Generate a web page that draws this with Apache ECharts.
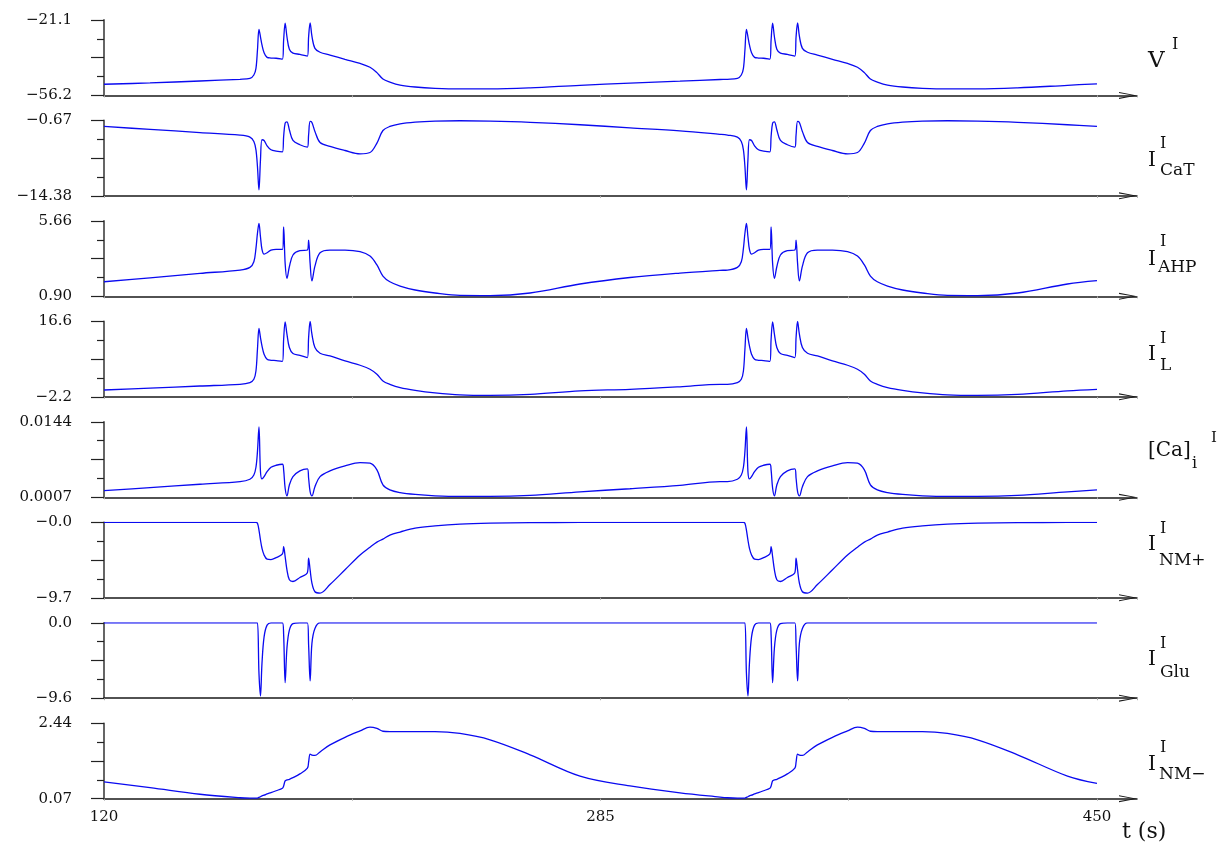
<!DOCTYPE html>
<html><head><meta charset="utf-8">
<script src="https://cdn.jsdelivr.net/npm/echarts@6/dist/echarts.min.js"></script>
<style>html,body{margin:0;padding:0;background:#fff}#c{width:1222px;height:846px}</style>
</head><body><div id="c"></div>
<script>
// time (s)
const timeS = [120, 135.3, 151.9,
 165.2, 168.5, 169.8, 170.5, 171.0, 171.5, 172.0, 172.5, 173.2, 174.2,
 175.5, 177.2, 179.3, 179.7, 180.2, 180.8, 181.6, 182.8, 185.1, 187.6,
 188.0, 188.5, 189.1, 190.1, 191.8, 195.1, 200.1, 205.1, 208.4, 210.7,
 212.7, 215.0, 218.4, 223.4, 230.0, 238.3, 248.3, 261.6, 278.2, 294.8,
 311.4, 324.7,
 327.2, 330.5, 331.8, 332.5, 333.0, 333.5, 334.0, 334.5, 335.2, 336.2,
 337.5, 339.2, 341.3, 341.7, 342.2, 342.8, 343.6, 344.8, 347.1, 349.6,
 350.0, 350.5, 351.1, 352.1, 353.8, 357.1, 362.1, 367.1, 370.4, 372.7,
 374.7, 377.0, 380.4, 385.4, 392.0, 400.3, 410.3, 423.6, 440.2,
 450];

const V_I = [-51.0, -50.4, -49.5,
 -48.7, -48.3, -46.7, -43.6, -35.1, -25.5, -28.9, -32.7, -36.3, -38.5,
 -38.8, -38.9, -39.3, -30.4, -22.6, -28.9, -34.7, -36.5, -37.1, -37.9,
 -28.9, -22.4, -28.6, -34.3, -36.1, -37.4, -39.4, -41.3, -43.1, -45.6,
 -48.6, -50.0, -51.4, -52.3, -52.9, -53.2, -53.2, -52.7, -51.5, -50.5,
 -49.6, -48.8,
 -48.7, -48.3, -46.7, -43.6, -35.1, -25.5, -28.9, -32.7, -36.3, -38.5,
 -38.8, -38.9, -39.3, -30.4, -22.6, -28.9, -34.7, -36.5, -37.1, -37.9,
 -28.9, -22.4, -28.6, -34.3, -36.1, -37.4, -39.4, -41.3, -43.1, -45.6,
 -48.6, -50.0, -51.4, -52.3, -52.9, -53.2, -53.2, -52.7, -51.5,
 -50.8];

const I_CaT = [-1.76, -2.29, -2.87,
 -3.33, -3.69, -4.49, -6.00, -9.05, -13.29, -7.83, -4.18, -4.31, -5.28,
 -6.00, -6.24, -6.37, -3.58, -1.14, -0.91, -2.36, -4.31, -5.09, -5.51,
 -3.27, -0.85, -1.03, -2.67, -4.68, -5.40, -6.13, -6.73, -6.50, -4.78,
 -2.49, -1.76, -1.27, -0.96, -0.78, -0.72, -0.78, -1.00, -1.45, -2.00,
 -2.55, -3.18,
 -3.33, -3.69, -4.49, -6.00, -9.05, -13.29, -7.83, -4.18, -4.31, -5.28,
 -6.00, -6.24, -6.37, -3.58, -1.14, -0.91, -2.36, -4.31, -5.09, -5.51,
 -3.27, -0.85, -1.03, -2.67, -4.68, -5.40, -6.13, -6.73, -6.50, -4.78,
 -2.49, -1.76, -1.27, -0.96, -0.78, -0.72, -0.78, -1.00, -1.45,
 -1.73];

const I_AHP = [1.82, 2.07, 2.35,
 2.56, 2.73, 3.08, 3.93, 4.88, 5.50, 4.66, 3.87, 3.57, 3.65,
 3.82, 3.87, 3.87, 5.29, 2.98, 2.04, 2.77, 3.51, 3.78, 3.82,
 4.45, 2.98, 1.87, 2.81, 3.65, 3.82, 3.82, 3.72, 3.44, 2.88,
 2.18, 1.82, 1.55, 1.30, 1.11, 0.96, 0.95, 1.11, 1.68, 2.09,
 2.37, 2.54,
 2.56, 2.73, 3.08, 3.93, 4.88, 5.50, 4.66, 3.87, 3.57, 3.65,
 3.82, 3.87, 3.87, 5.29, 2.98, 2.04, 2.77, 3.51, 3.78, 3.82,
 4.45, 2.98, 1.87, 2.81, 3.65, 3.82, 3.82, 3.72, 3.44, 2.88,
 2.18, 1.82, 1.55, 1.30, 1.11, 0.96, 0.95, 1.11, 1.68,
 1.89];

const I_L = [-0.50, -0.03, 0.50,
 0.92, 1.35, 2.17, 4.24, 9.66, 14.83, 12.58, 10.48, 8.41, 7.16,
 6.91, 6.84, 6.66, 12.16, 16.48, 13.41, 10.09, 8.59, 8.16, 7.59,
 12.58, 16.60, 13.41, 10.09, 8.66, 7.99, 6.74, 5.67, 4.67, 3.42,
 1.75, 0.92, 0.10, -0.58, -1.20, -1.70, -1.83, -1.58, -0.70, -0.33,
 0.30, 0.92,
 0.92, 1.35, 2.17, 4.24, 9.66, 14.83, 12.58, 10.48, 8.41, 7.16,
 6.91, 6.84, 6.66, 12.16, 16.48, 13.41, 10.09, 8.59, 8.16, 7.59,
 12.58, 16.60, 13.41, 10.09, 8.66, 7.99, 6.74, 5.67, 4.67, 3.42,
 1.75, 0.92, 0.10, -0.58, -1.20, -1.70, -1.83, -1.58, -0.70,
 -0.33];

const Ca_i = [0.00190, 0.00245, 0.00307,
 0.00354, 0.00398, 0.00476, 0.00616, 0.00900, 0.01349, 0.00540, 0.00403, 0.00445, 0.00536,
 0.00616, 0.00652, 0.00670, 0.00567, 0.00234, 0.00094, 0.00294, 0.00445, 0.00549, 0.00585,
 0.00416, 0.00172, 0.00094, 0.00263, 0.00445, 0.00549, 0.00640, 0.00700, 0.00689, 0.00567,
 0.00294, 0.00203, 0.00154, 0.00121, 0.00097, 0.00085, 0.00085, 0.00103, 0.00170, 0.00225,
 0.00285, 0.00354,
 0.00354, 0.00398, 0.00476, 0.00616, 0.00900, 0.01349, 0.00540, 0.00403, 0.00445, 0.00536,
 0.00616, 0.00652, 0.00670, 0.00567, 0.00234, 0.00094, 0.00294, 0.00445, 0.00549, 0.00585,
 0.00416, 0.00172, 0.00094, 0.00263, 0.00445, 0.00549, 0.00640, 0.00700, 0.00689, 0.00567,
 0.00294, 0.00203, 0.00154, 0.00121, 0.00097, 0.00085, 0.00085, 0.00103, 0.00170,
 0.00203];

const I_NMp = [0, 0, 0,
 0, 0, 0, 0, -0.13, -0.99, -2.27, -3.33, -4.19, -4.74,
 -4.79, -4.54, -4.06, -3.13, -4.41, -6.11, -7.39, -7.61, -7.10, -6.46,
 -4.61, -6.11, -7.82, -8.93, -9.10, -8.00, -6.10, -4.20, -3.20, -2.55,
 -2.15, -1.65, -1.25, -0.75, -0.45, -0.22, -0.10, -0.04, -0.01, 0,
 0, 0,
 0, 0, 0, 0, -0.13, -0.99, -2.27, -3.33, -4.19, -4.74,
 -4.79, -4.54, -4.06, -3.13, -4.41, -6.11, -7.39, -7.61, -7.10, -6.46,
 -4.61, -6.11, -7.82, -8.93, -9.10, -8.00, -6.10, -4.20, -3.20, -2.55,
 -2.15, -1.65, -1.25, -0.75, -0.45, -0.22, -0.10, -0.04, -0.01,
 0];

const I_Glu = [0, 0, 0,
 0, 0, 0, 0, 0, -6.43, -9.31, -5.16, -1.78, -0.29,
 0, 0, 0, -1.50, -7.62, -3.21, -0.93, -0.10, 0, 0,
 -2.83, -7.40, -2.62, -0.71, 0, 0, 0, 0, 0, 0,
 0, 0, 0, 0, 0, 0, 0, 0, 0, 0,
 0, 0,
 0, 0, 0, 0, 0, -6.43, -9.31, -5.16, -1.78, -0.29,
 0, 0, 0, -1.50, -7.62, -3.21, -0.93, -0.10, 0, 0,
 -2.83, -7.40, -2.62, -0.71, 0, 0, 0, 0, 0, 0,
 0, 0, 0, 0, 0, 0, 0, 0, 0,
 0];

const I_NMm = [0.60, 0.42, 0.21,
 0.10, 0.09, 0.09, 0.09, 0.09, 0.11, 0.13, 0.16, 0.18, 0.22,
 0.26, 0.32, 0.40, 0.47, 0.63, 0.66, 0.68, 0.73, 0.85, 1.03,
 1.22, 1.47, 1.44, 1.43, 1.54, 1.76, 2.00, 2.20, 2.32, 2.28,
 2.19, 2.18, 2.18, 2.18, 2.18, 2.12, 1.92, 1.45, 0.78, 0.47,
 0.25, 0.12,
 0.10, 0.09, 0.09, 0.09, 0.09, 0.11, 0.13, 0.16, 0.18, 0.22,
 0.26, 0.32, 0.40, 0.47, 0.63, 0.66, 0.68, 0.73, 0.85, 1.03,
 1.22, 1.47, 1.44, 1.43, 1.54, 1.76, 2.00, 2.20, 2.32, 2.28,
 2.19, 2.18, 2.18, 2.18, 2.18, 2.12, 1.92, 1.45, 0.78,
 0.55];

const panelSeries = [V_I, I_CaT, I_AHP, I_L, Ca_i, I_NMp, I_Glu, I_NMm];
const yMin = [-56.2, -14.38, 0.90, -2.2, 0.0007, -9.7, -9.6, 0.07];
const yMax = [-21.1, -0.67, 5.66, 16.6, 0.0144, 0, 0, 2.44];
const topLabels = ['\u221221.1', '\u22120.67', '5.66', '16.6', '0.0144', '\u22120.0', '0.0', '2.44'];
const bottomLabels = ['\u221256.2', '\u221214.38', '0.90', '\u22122.2', '0.0007', '\u22129.7', '\u22129.6', '0.07'];
const xTickLabels = [120, 285, 450];
const tStart = 120, tAxisEnd = 463.3, tLabelStep = 165;

const FONT = '"DejaVu Serif"';
const chart = echarts.init(document.getElementById('c'), null, {renderer: 'canvas'});
const grids = [], xAxes = [], yAxes = [], series = [];
const arrowPath = 'path://M0,18 L3.5,0 L7,18 L5.9,18 L3.5,4.2 L1.1,18 Z';

for (let i = 0; i < 8; i++) {
  const top = 20 + i * 100.47;
  grids.push({left: 104, right: 85, top: top, height: 75.4});
  const last = i === 7;
  xAxes.push({
    type: 'value', gridIndex: i, min: 0, max: tAxisEnd - tStart, interval: tLabelStep / 2,
    axisLine: {show: true, onZero: false, lineStyle: {color: '#1a1a1a', width: 1.5},
      symbol: ['none', arrowPath], symbolSize: [7, 18], symbolOffset: [0, -9]},
    axisTick: {show: true, length: 2, lineStyle: {color: '#aaa', width: 1}},
    splitLine: {show: false},
    axisLabel: {show: last, margin: 11, color: '#111', fontFamily: FONT, fontSize: 15,
      showMaxLabel: false,
      formatter: function (v) {
        for (const L of xTickLabels) { if (Math.abs(v - (L - tStart)) < 1e-6) return String(L); }
        return '';
      }}
  });
  const span = yMax[i] - yMin[i];
  yAxes.push({
    type: 'value', gridIndex: i, min: 0, max: span, interval: span / 2,
    axisLine: {show: true, lineStyle: {color: '#555', width: 1.8}},
    axisTick: {show: true, length: 13, lineStyle: {color: '#222', width: 1.2}},
    minorTick: {show: true, splitNumber: 2, length: 7, lineStyle: {color: '#222', width: 1.2}},
    splitLine: {show: false}, minorSplitLine: {show: false},
    axisLabel: {show: true, margin: 32, color: '#111', fontFamily: FONT, fontSize: 15,
      showMinLabel: true, showMaxLabel: true,
      formatter: function (v) {
        if (Math.abs(v) < span * 1e-6) return bottomLabels[i];
        if (Math.abs(v - span) < span * 1e-6) return topLabels[i];
        return '';
      }}
  });
  const vals = panelSeries[i];
  series.push({
    type: 'line', xAxisIndex: i, yAxisIndex: i, showSymbol: false, symbol: 'none',
    smooth: 0.35,
    lineStyle: {color: '#0a0af0', width: 1.3}, itemStyle: {color: '#0a0af0'},
    data: timeS.map((t, k) => [t - tStart, vals[k] - yMin[i]]),
    animation: false, z: 3
  });
}

function txt(s, x, y, size) {
  return {type: 'text', x: x, y: y, silent: true,
    style: {text: s, font: 'normal ' + size + 'px ' + FONT, fill: '#111', align: 'left', verticalAlign: 'middle'}};
}
const MAIN = 20, SUP = 16, SUB = 17;
const graphics = [
  txt('V', 1148, 61.5, 23), txt('I', 1172, 44.5, SUP),
  txt('I', 1148, 160.5, MAIN), txt('I', 1160, 144, SUP), txt('CaT', 1160, 171, SUB),
  txt('I', 1148, 260, MAIN), txt('I', 1160, 241.5, SUP), txt('AHP', 1158, 268, SUB),
  txt('I', 1148, 355, MAIN), txt('I', 1160, 339, SUP), txt('L', 1160, 366, SUB),
  txt('[Ca]', 1148, 451, 20), txt('i', 1192, 464, 16), txt('I', 1211, 438.5, 15),
  txt('I', 1148, 545, MAIN), txt('I', 1160, 529, SUP), txt('NM+', 1159, 561, SUB),
  txt('I', 1148, 660, MAIN), txt('I', 1160, 644, SUP), txt('Glu', 1160, 672.5, SUB),
  txt('I', 1148, 765, MAIN), txt('I', 1160, 747.5, SUP), txt('NM\u2212', 1159, 775, SUB),
  txt('t (s)', 1122, 832, 22)
];

chart.setOption({
  animation: false,
  backgroundColor: '#fff',
  grid: grids, xAxis: xAxes, yAxis: yAxes, series: series,
  graphic: graphics
});
</script></body></html>
